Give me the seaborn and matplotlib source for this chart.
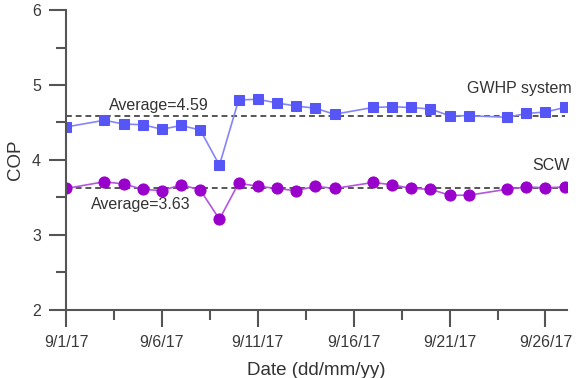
import matplotlib
matplotlib.use("Agg")
import matplotlib.pyplot as plt
from matplotlib.ticker import MultipleLocator
import seaborn as sns
import pandas as pd

# days of September 2017 that have readings
days = [1, 3, 4, 5, 6, 7, 8, 9, 10, 11, 12, 13, 14, 15, 17, 18, 19, 20, 21, 22, 24, 25, 26, 27]
gwhp = [4.44, 4.53, 4.48, 4.47, 4.41, 4.46, 4.40, 3.93, 4.80, 4.81, 4.76, 4.72, 4.69, 4.61,
        4.70, 4.71, 4.70, 4.68, 4.59, 4.59, 4.57, 4.62, 4.64, 4.70]
scw = [3.62, 3.71, 3.68, 3.61, 3.59, 3.67, 3.60, 3.21, 3.69, 3.65, 3.62, 3.59, 3.65, 3.62,
       3.70, 3.67, 3.62, 3.61, 3.53, 3.53, 3.61, 3.64, 3.63, 3.64]
avg_gwhp = 4.59
avg_scw = 3.63
tick_days = [1, 6, 11, 16, 21, 26]
tick_labels = ["9/1/17", "9/6/17", "9/11/17", "9/16/17", "9/21/17", "9/26/17"]

df = pd.DataFrame({
    "date": pd.to_datetime([f"2017-09-{d:02d}" for d in days]),
    "GWHP": gwhp,
    "SCW": scw,
})

sns.set_style("ticks")
plt.rcParams["font.family"] = ["Liberation Sans", "DejaVu Sans"]

fig = plt.figure(figsize=(5.81, 3.78), dpi=100)
ax = fig.add_axes([0.1136, 0.18, 0.976 - 0.1136, 0.9735 - 0.18])

blue = "#5656f6"
purple = "#9a00cc"
sns.lineplot(data=df, x="date", y="GWHP", ax=ax, color="#8585fa", lw=1.2,
             marker="s", markersize=7, markerfacecolor=blue, markeredgecolor=blue)
sns.lineplot(data=df, x="date", y="SCW", ax=ax, color="#b455e0", lw=1.2,
             marker="o", markersize=8, markerfacecolor=purple, markeredgecolor=purple)

x0 = pd.Timestamp("2017-09-01")
x1 = pd.Timestamp("2017-09-27") + pd.Timedelta(hours=3)
ax.hlines([avg_gwhp, avg_scw], x0, pd.Timestamp("2017-09-27"), colors="#555555",
          linestyles=(0, (3, 2)), lw=1.4, zorder=1)

ax.set_xlim(x0, x1)
ax.set_ylim(2, 6)
ax.set_xticks([pd.Timestamp(f"2017-09-{d:02d}") for d in tick_days])
ax.set_xticklabels(tick_labels)
ax.set_xticks([pd.Timestamp(f"2017-09-{d:02d} 12:00") for d in [3, 8, 13, 18, 23]], minor=True)
ax.yaxis.set_major_locator(MultipleLocator(1))
ax.yaxis.set_minor_locator(MultipleLocator(0.5))

for s in ["top", "right"]:
    ax.spines[s].set_visible(False)
for s in ["left", "bottom"]:
    ax.spines[s].set_color("#555555")
    ax.spines[s].set_linewidth(1.5)
ax.tick_params(which="major", length=12, width=1.5, color="#555555", labelsize=11.5,
               labelcolor="#3a3a3a", pad=6)
ax.tick_params(which="minor", length=7, width=1.5, color="#555555")

ax.set_xlabel("Date (dd/mm/yy)", fontsize=13.5, color="#333333", labelpad=9)
ax.set_ylabel("COP", fontsize=13.5, color="#333333", labelpad=6)

ax.text(1.01, 4.96, "GWHP system", transform=ax.get_yaxis_transform(), ha="right",
        va="center", fontsize=11.5, color="#333333")
ax.text(1.006, 3.92, "SCW", transform=ax.get_yaxis_transform(), ha="right",
        va="center", fontsize=11.5, color="#333333")
ax.text(pd.Timestamp("2017-09-03 06:00"), 4.73, "Average=4.59", va="center",
        fontsize=11.5, color="#333333")
ax.text(pd.Timestamp("2017-09-02 07:00"), 3.41, "Average=3.63", va="center",
        fontsize=11.5, color="#333333")

fig.savefig("out.png", dpi=100)
